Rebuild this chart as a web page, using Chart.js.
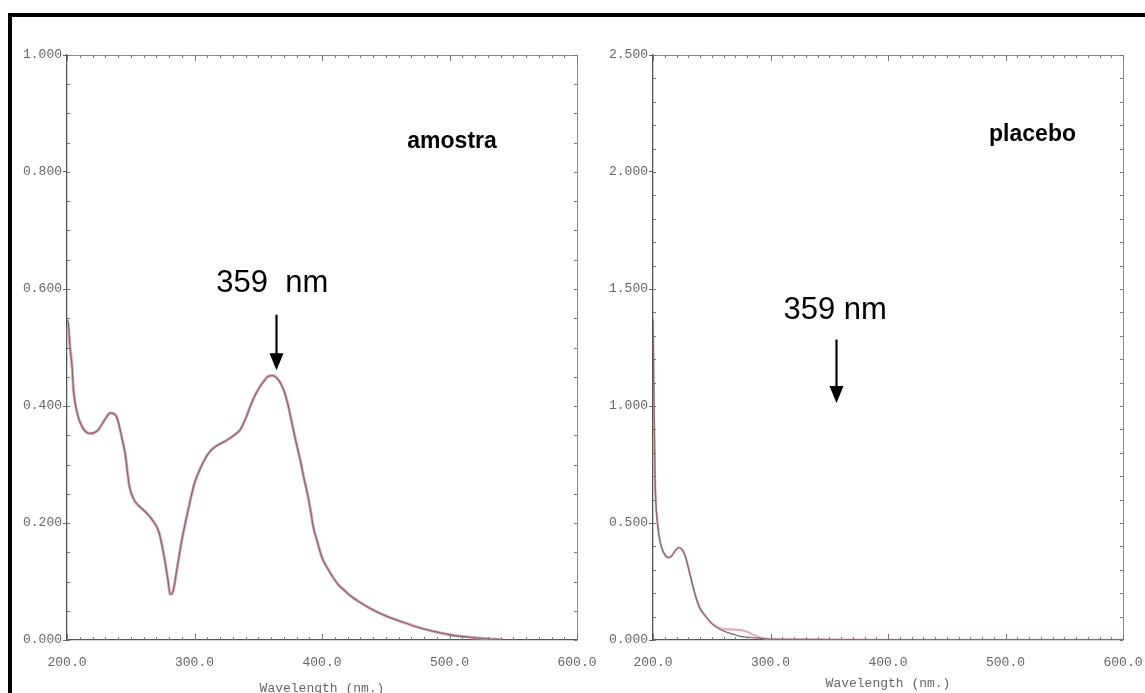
<!DOCTYPE html>
<html>
<head>
<meta charset="utf-8">
<title>amostra / placebo</title>
<script src="https://cdn.jsdelivr.net/npm/chart.js@4.4.1/dist/chart.umd.min.js"></script>
<style>
  html, body { margin: 0; padding: 0; background: #fff; overflow: hidden; }
  body { width: 1145px; height: 693px; position: relative; }
  .frame { position: absolute; left: 8px; top: 13px; width: 1200px; height: 800px; border: 4px solid #000; }
  .panel { position: absolute; top: 0; height: 693px; }
  #leftPanel { left: 0; width: 612px; }
  #rightPanel { left: 590px; width: 555px; }
</style>
</head>
<body>
<div class="frame"></div>
<div class="panel" id="leftPanel"><canvas id="amostraChart"></canvas></div>
<div class="panel" id="rightPanel"><canvas id="placeboChart"></canvas></div>

<script>
// amostra spectrum (wavelength nm / absorbance)
const amostraWl = [200, 201, 202.4, 204, 205, 208, 212, 218, 224, 230, 234, 239, 243, 245.5, 249, 253, 257, 262, 267, 272,
  276, 279, 281, 283, 286, 290, 295, 300, 306, 312, 318, 325, 331, 336, 340, 343.5, 347, 351, 355, 358,
  361, 365, 369.5, 373, 377, 380, 383, 386, 388, 391, 393, 397, 400, 405, 409, 413, 418, 422, 430, 437,
  445, 455, 464, 475, 485, 493, 500, 510, 520, 530, 540];
const amostraAbs = [0.548, 0.540, 0.500, 0.467, 0.430, 0.388, 0.364, 0.353, 0.358, 0.378, 0.388, 0.381, 0.346, 0.320, 0.262, 0.238, 0.228, 0.218, 0.205, 0.185,
  0.145, 0.105, 0.078, 0.082, 0.118, 0.170, 0.222, 0.268, 0.300, 0.322, 0.333, 0.341, 0.350, 0.360, 0.378, 0.398, 0.416, 0.432, 0.444, 0.451,
  0.452, 0.447, 0.430, 0.405, 0.365, 0.335, 0.307, 0.275, 0.256, 0.222, 0.195, 0.163, 0.141, 0.120, 0.106, 0.094, 0.084, 0.076, 0.064, 0.055,
  0.046, 0.037, 0.030, 0.022, 0.016, 0.012, 0.009, 0.006, 0.004, 0.002, 0.001];

// placebo spectrum, two overlaid runs
const placeboWl = [200, 200.5, 201, 201.7, 202.5, 203.4, 205, 207, 210, 213, 216, 219, 222, 225, 228, 231, 233, 235, 237, 240,
  245, 250, 257, 265, 275, 280, 290, 297, 310, 350, 400, 450, 500, 550, 600];
const placeboAbs = [1.37, 1.15, 0.95, 0.70, 0.58, 0.52, 0.45, 0.40, 0.365, 0.352, 0.360, 0.382, 0.395, 0.385, 0.350, 0.290, 0.250, 0.210, 0.175, 0.135,
  0.100, 0.070, 0.045, 0.030, 0.015, 0.012, 0.008, 0.005, 0.003, 0.002, 0.001, 0.001, 0.001, 0.001, 0.001];
const placeboAbsRep = [1.37, 1.15, 0.95, 0.70, 0.58, 0.52, 0.45, 0.40, 0.365, 0.352, 0.360, 0.382, 0.395, 0.385, 0.350, 0.290, 0.250, 0.210, 0.175, 0.135,
  0.100, 0.072, 0.050, 0.045, 0.042, 0.035, 0.012, 0.005, 0.003, 0.002, 0.001, 0.001, 0.001, 0.001, 0.001];

// axis ticks
const wlTicks = [200, 300, 400, 500, 600];
const amostraTicks = [0, 0.2, 0.4, 0.6, 0.8, 1.0];
const placeboTicks = [0, 0.5, 1.0, 1.5, 2.0, 2.5];

const toPoints = (xs, ys) => xs.map((x, i) => ({ x: x, y: ys[i] }));

const BROWN = '#8a6a6a';
const PINK = 'rgba(214,160,180,0.85)';
const MONO = '"Liberation Mono", "Courier New", monospace';
const SANS = '"Liberation Sans", Arial, sans-serif';

// inward minor ticks + top/right frame, like the printed spectrophotometer plot
const frameTicks = {
  id: 'frameTicks',
  afterDatasetsDraw(chart, args, o) {
    const { ctx, chartArea: a, scales: { x, y } } = chart;
    ctx.save();
    ctx.lineWidth = 1;
    ctx.strokeStyle = '#8c8c8c';
    ctx.beginPath();
    ctx.moveTo(a.left, a.top + 0.5);
    ctx.lineTo(a.right + 0.5, a.top + 0.5);
    ctx.lineTo(a.right + 0.5, a.bottom);
    ctx.stroke();

    ctx.strokeStyle = '#777';
    ctx.beginPath();
    const nx = Math.round((x.max - x.min) / o.xStep);
    for (let i = 0; i <= nx; i++) {
      const v = x.min + i * o.xStep;
      const px = Math.round(x.getPixelForValue(v)) + 0.5;
      const len = i % 10 === 0 ? 6 : 3;
      ctx.moveTo(px, a.bottom); ctx.lineTo(px, a.bottom - len);
      ctx.moveTo(px, a.top); ctx.lineTo(px, a.top + len);
    }
    const ny = Math.round((y.max - y.min) / o.yStep);
    for (let i = 0; i <= ny; i++) {
      const py = Math.round(y.getPixelForValue(y.min + i * o.yStep)) + 0.5;
      ctx.moveTo(a.left, py); ctx.lineTo(a.left + 3, py);
      ctx.moveTo(a.right, py); ctx.lineTo(a.right - 3, py);
    }
    ctx.stroke();
    ctx.restore();
  }
};

// text labels and arrows placed in data coordinates
const notes = {
  id: 'notes',
  afterDraw(chart, args, o) {
    const { ctx, scales: { x, y } } = chart;
    ctx.save();
    ctx.fillStyle = '#000';
    ctx.strokeStyle = '#000';
    (o.labels || []).forEach(l => {
      ctx.font = l.font;
      ctx.textAlign = 'center';
      ctx.textBaseline = 'middle';
      ctx.fillText(l.text, x.getPixelForValue(l.x), y.getPixelForValue(l.y));
    });
    (o.arrows || []).forEach(ar => {
      const px = Math.round(x.getPixelForValue(ar.x)) + 0.5;
      const top = y.getPixelForValue(ar.from);
      const tip = y.getPixelForValue(ar.to);
      ctx.lineWidth = 2.2;
      ctx.beginPath();
      ctx.moveTo(px, top);
      ctx.lineTo(px, tip - 14);
      ctx.stroke();
      ctx.beginPath();
      ctx.moveTo(px - 7, tip - 17);
      ctx.lineTo(px + 7, tip - 17);
      ctx.lineTo(px, tip);
      ctx.closePath();
      ctx.fill();
    });
    ctx.restore();
  }
};

function makePanel(canvasId, cfg) {
  return new Chart(document.getElementById(canvasId), {
    type: 'line',
    data: { datasets: cfg.datasets },
    options: {
      responsive: true,
      maintainAspectRatio: false,
      animation: false,
      layout: { autoPadding: false, padding: { top: 55, right: cfg.padRight, left: 0, bottom: 0 } },
      elements: { point: { radius: 0 }, line: { cubicInterpolationMode: 'monotone' } },
      plugins: {
        legend: { display: false },
        tooltip: { enabled: false },
        frameTicks: { xStep: 10, yStep: cfg.yMinor },
        notes: cfg.notes
      },
      scales: {
        x: {
          type: 'linear', min: 200, max: 600,
          afterBuildTicks: s => { s.ticks = wlTicks.map(v => ({ value: v })); },
          afterFit: s => { s.height = 53; s.paddingLeft = 0; s.paddingRight = 0; },
          grid: { drawOnChartArea: false, drawTicks: false },
          border: { color: '#555', width: 1.3 },
          ticks: {
            padding: 15, color: '#666', font: { family: MONO, size: 13 },
            maxRotation: 0, callback: v => v.toFixed(1)
          },
          title: {
            display: true, text: 'Wavelength (nm.)', color: '#666',
            font: { family: MONO, size: 13 }, padding: { top: 0, bottom: cfg.titleBottom }
          }
        },
        y: {
          type: 'linear', min: 0, max: cfg.yMax,
          afterBuildTicks: s => { s.ticks = cfg.yTicks.map(v => ({ value: v })); },
          afterFit: s => { s.width = cfg.yWidth; s.paddingTop = 0; s.paddingBottom = 0; },
          grid: { drawOnChartArea: false, tickLength: 4, tickColor: '#666' },
          border: { color: '#555', width: 1.3 },
          ticks: {
            padding: 1, color: '#666', font: { family: MONO, size: 13 },
            callback: v => v.toFixed(3)
          }
        }
      }
    },
    plugins: [frameTicks, notes]
  });
}

// dataset 0 is drawn on top, so the brown trace goes first
makePanel('amostraChart', {
  padRight: 35, yWidth: 67, yMax: 1.0, yTicks: amostraTicks, yMinor: 0.05, titleBottom: -3,
  datasets: [
    { data: toPoints(amostraWl, amostraAbs), borderColor: BROWN, borderWidth: 1.3 },
    { data: toPoints(amostraWl, amostraAbs), borderColor: PINK, borderWidth: 3 }
  ],
  notes: {
    labels: [
      { text: 'amostra', x: 502, y: 0.852, font: 'bold 23px ' + SANS },
      { text: '359  nm', x: 361, y: 0.61, font: '31px ' + SANS }
    ],
    arrows: [{ x: 364, from: 0.556, to: 0.461 }]
  }
});

makePanel('placeboChart', {
  padRight: 22, yWidth: 63, yMax: 2.5, yTicks: placeboTicks, yMinor: 0.1, titleBottom: 2,
  datasets: [
    { data: toPoints(placeboWl, placeboAbs), borderColor: BROWN, borderWidth: 1.3 },
    { data: toPoints(placeboWl, placeboAbsRep), borderColor: PINK, borderWidth: 2.2 }
  ],
  notes: {
    labels: [
      { text: 'placebo', x: 523, y: 2.16, font: 'bold 23px ' + SANS },
      { text: '359 nm', x: 355, y: 1.41, font: '31px ' + SANS }
    ],
    arrows: [{ x: 356, from: 1.284, to: 1.013 }]
  }
});
</script>
</body>
</html>
